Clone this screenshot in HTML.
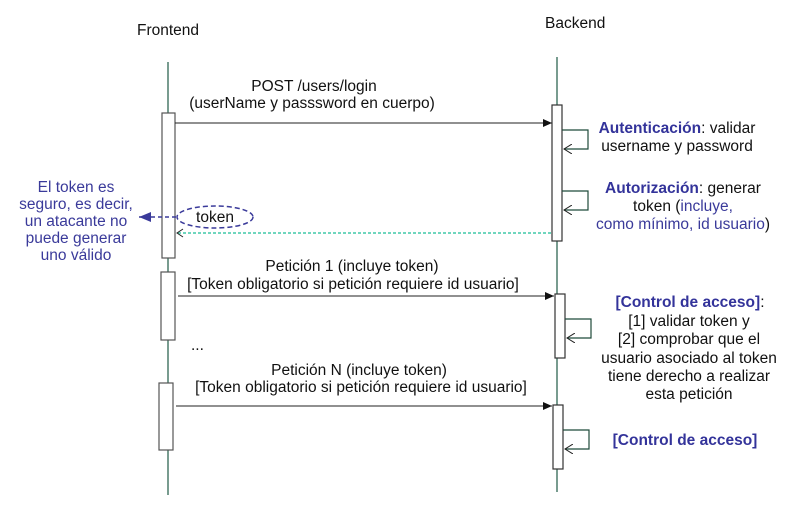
<!DOCTYPE html>
<html><head><meta charset="utf-8"><style>
html,body{margin:0;padding:0;background:#fff;}
svg{display:block;font-family:"Liberation Sans","DejaVu Sans",sans-serif;}
.t{font-size:15.5px;fill:#111;}
.b{font-size:15.5px;fill:#3a3a9a;}
.bb{font-size:15.5px;fill:#33339a;font-weight:bold;}
</style></head><body>
<svg width="812" height="510" viewBox="0 0 812 510">
<defs>
<marker id="f" markerWidth="10" markerHeight="8" refX="9" refY="4" orient="auto" markerUnits="userSpaceOnUse"><path d="M0,0 L9,4 L0,8 z" fill="#111"/></marker>
<marker id="o" markerWidth="10" markerHeight="10" refX="8" refY="5" orient="auto" markerUnits="userSpaceOnUse"><path d="M0,0 L8,5 L0,10" fill="none" stroke="#222" stroke-width="1"/></marker>
<marker id="bl" markerWidth="14" markerHeight="10" refX="12" refY="5" orient="auto" markerUnits="userSpaceOnUse"><path d="M0,0 L12,5 L0,10 z" fill="#3a3a9a"/></marker>
</defs>
<text class="t" x="137" y="35">Frontend</text>
<text class="t" x="545" y="28">Backend</text>
<line x1="168" y1="62" x2="168" y2="495" stroke="#1e5a45" stroke-width="1.2"/>
<line x1="557" y1="57" x2="557" y2="492" stroke="#1e5a45" stroke-width="1.2"/>
<rect x="162" y="113" width="13" height="145" fill="#fff" stroke="#555" stroke-width="1.2"/>
<rect x="161" y="272" width="14" height="68" fill="#fff" stroke="#555" stroke-width="1.2"/>
<rect x="159" y="383" width="14" height="67" fill="#fff" stroke="#555" stroke-width="1.2"/>
<rect x="552" y="105" width="10" height="136" fill="#fff" stroke="#333" stroke-width="1.2"/>
<rect x="555" y="294" width="10" height="64" fill="#fff" stroke="#333" stroke-width="1.2"/>
<rect x="553" y="405" width="10" height="64" fill="#fff" stroke="#333" stroke-width="1.2"/>
<text class="t" x="314" y="91" text-anchor="middle">POST /users/login</text>
<text class="t" x="312" y="108" text-anchor="middle">(userName y passsword en cuerpo)</text>
<line x1="175" y1="123" x2="552" y2="123" stroke="#222" marker-end="url(#f)"/>
<polyline points="562,130 588,130 588,149 564,149" fill="none" stroke="#1e4a3a" stroke-width="1.2" marker-end="url(#o)"/>
<polyline points="562,191 588,191 588,210 564,210" fill="none" stroke="#1e4a3a" stroke-width="1.2" marker-end="url(#o)"/>
<polyline points="565,319 591,319 591,338 567,338" fill="none" stroke="#1e4a3a" stroke-width="1.2" marker-end="url(#o)"/>
<polyline points="563,430 589,430 589,449 565,449" fill="none" stroke="#1e4a3a" stroke-width="1.2" marker-end="url(#o)"/>
<line x1="551" y1="233" x2="177" y2="233" stroke="#40c8a8" stroke-width="1.5" stroke-dasharray="3,2"/>
<path d="M183,229 L177,233 L183,237" fill="none" stroke="#222"/>
<ellipse cx="215" cy="217" rx="38" ry="11" fill="#fff" stroke="#3a3a9a" stroke-width="1.5" stroke-dasharray="5,3"/>
<text class="t" x="215" y="222" text-anchor="middle">token</text>
<line x1="176" y1="217" x2="139" y2="217" stroke="#3a3a9a" stroke-width="1.5" stroke-dasharray="4,3" marker-end="url(#bl)"/>
<g class="b" text-anchor="middle">
<text x="76" y="192">El token es</text>
<text x="76" y="209">seguro, es decir,</text>
<text x="76" y="226">un atacante no</text>
<text x="76" y="243">puede generar</text>
<text x="76" y="260">uno válido</text>
</g>
<text x="677" y="133" text-anchor="middle" class="t"><tspan class="bb">Autenticación</tspan>: validar</text>
<text x="677" y="151" text-anchor="middle" class="t">username y password</text>
<text x="683" y="193" text-anchor="middle" class="t"><tspan class="bb">Autorización</tspan>: generar</text>
<text x="683" y="211" text-anchor="middle" class="t">token (<tspan class="b">incluye,</tspan></text>
<text x="683" y="229" text-anchor="middle" class="t"><tspan class="b">como mínimo, id usuario</tspan>)</text>
<text class="t" x="352" y="271" text-anchor="middle">Petición 1 (incluye token)</text>
<text class="t" x="353" y="289" text-anchor="middle">[Token obligatorio si petición requiere id usuario]</text>
<line x1="178" y1="296" x2="554" y2="296" stroke="#222" marker-end="url(#f)"/>
<text class="t" x="191" y="350">...</text>
<text class="t" x="359" y="375" text-anchor="middle">Petición N (incluye token)</text>
<text class="t" x="361" y="392" text-anchor="middle">[Token obligatorio si petición requiere id usuario]</text>
<line x1="176" y1="406" x2="552" y2="406" stroke="#222" marker-end="url(#f)"/>
<text x="690" y="307" text-anchor="middle" class="bb">[Control de acceso]<tspan class="t" font-weight="normal">:</tspan></text>
<g class="t" text-anchor="middle">
<text x="689" y="326">[1] validar token y</text>
<text x="689" y="344">[2] comprobar que el</text>
<text x="689" y="363">usuario asociado al token</text>
<text x="689" y="381">tiene derecho a realizar</text>
<text x="689" y="399">esta petición</text>
</g>
<text x="685" y="445" text-anchor="middle" class="bb">[Control de acceso]</text>
</svg>
</body></html>
